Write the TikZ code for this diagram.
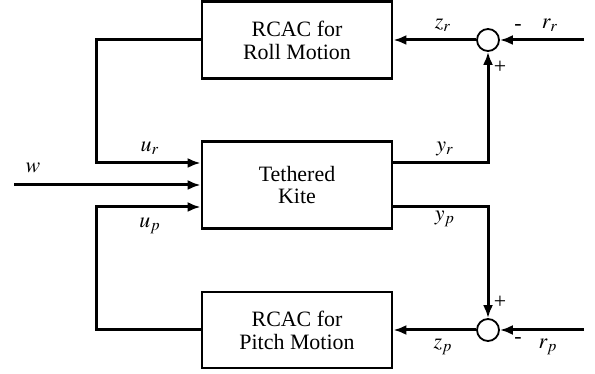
\documentclass[tikz,border=0pt]{standalone}
\usepackage{mathptmx}
\usepackage{fontspec}
\setmainfont{Liberation Serif}
\usetikzlibrary{arrows.meta}

\begin{document}
\begin{tikzpicture}[
  x=0.5bp, y=-0.5bp,
  font=\fontsize{11}{11.5}\selectfont,
  box/.style={draw, line width=1.4bp, minimum width=95bp, minimum height=38.5bp, align=center},
  sum/.style={draw, circle, line width=0.9bp, minimum size=11bp, inner sep=0pt},
  sig/.style={line width=1.5bp, -{Latex[length=6.5bp,width=5bp]}},
  line/.style={line width=1.5bp}
]
\useasboundingbox (0,0) rectangle (595,374);

% Blocks
\node[box] (roll) at (297,40) {RCAC for\\Roll Motion};
\node[box, minimum height=43.5bp] (kite) at (297,185) {Tethered\\Kite};
\node[box, minimum height=38bp] (pitch) at (297,330) {RCAC for\\Pitch Motion};

% Summing junctions
\node[sum] (sumr) at (488,40) {};
\node[sum] (sump) at (488,330) {};

% Free ends
\coordinate (rr) at (584,40);
\coordinate (rp) at (584,330);
\coordinate (win) at (14,185);

% Roll loop
\draw[sig] (rr) -- (sumr);
\draw[sig] (sumr) -- (roll);
\draw[sig] ([yshift=11bp]kite.east) -| (sumr);
\draw[sig] (roll.west) -- (96,40) |- ([yshift=11bp]kite.west);

% Disturbance
\draw[sig] (win) -- (kite);

% Pitch loop
\draw[sig] (pitch.west) -- (96,330) |- ([yshift=-11bp]kite.west);
\draw[sig] ([yshift=-11bp]kite.east) -| (sump);
\draw[sig] (rp) -- (sump);
\draw[sig] (sump) -- (pitch);

% Labels
\node at (443,25) {$z_r$};
\node at (550,25) {$r_r$};
\node at (518,28) {-};
\node at (500,67) {+};
\node at (150,148) {$u_r$};
\node at (33,168) {$w$};
\node at (150,226) {$u_p$};
\node at (445,149) {$y_r$};
\node at (445,219) {$y_p$};
\node at (500,302) {+};
\node at (518,341) {-};
\node at (443,347) {$z_p$};
\node at (548,347) {$r_p$};
\end{tikzpicture}
\end{document}
